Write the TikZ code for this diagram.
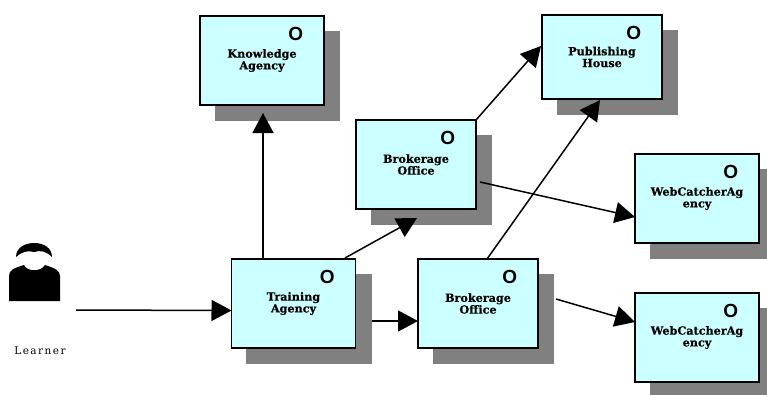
\documentclass[tikz,border=0pt]{standalone}
\usepackage{fontspec}
\setmainfont[BoldFeatures={FakeBold=0.4}]{DejaVu Serif}
\newfontfamily\learnerfont[LetterSpace=14]{DejaVu Serif}
\newfontfamily\markfont{Liberation Sans}
\usepackage{tikz}
\usetikzlibrary{arrows.meta}
\usetikzlibrary{shadows}
\definecolor{agencyblue}{RGB}{204,255,255}
\tikzset{flow/.style = {line width = 1.5pt, -{Triangle[length = 20pt, width = 21pt]}}}
\tikzset{agency/.style = {draw, fill = agencyblue, line width = 1.4pt, inner sep = 0, align = center,
                          font = \bfseries\fontsize{11.2}{11.8}\selectfont,
                          copy shadow = {shadow xshift = 15.5pt, shadow yshift = -15.5pt, fill = gray, draw = gray},
                          label = {[anchor = center, xshift = -29pt, yshift = -19pt,
                                    font = \markfont\bfseries\fontsize{19}{19}\selectfont]north east:O}}}
\begin{document}
\begin{tikzpicture}[x = 1pt, y = -1pt]
          \useasboundingbox (0, 0) rectangle (767, 394);
          \node [agency, minimum width = 124pt, minimum height = 89pt] (knowledge) at (262, 60.5) {Knowledge\\Agency};
          \node [agency, minimum width = 120pt, minimum height = 84pt] (publishing) at (602, 57) {Publishing\\House};
          \node [agency, minimum width = 120pt, minimum height = 89pt] (brokerageA) at (416, 164.5) {Brokerage\\Office};
          \node [agency, minimum width = 124pt, minimum height = 89pt] (catcherA) at (697, 198.5) {WebCatcherAg\\ency};
          \node [agency, minimum width = 124pt, minimum height = 89pt] (training) at (293.5, 303.5) {Training\\Agency};
          \node [agency, minimum width = 120pt, minimum height = 89pt] (brokerageB) at (478, 303.5) {Brokerage\\Office};
          \node [agency, minimum width = 124pt, minimum height = 89pt] (catcherB) at (697, 337.5) {WebCatcherAg\\ency};
          % learner figure
          \fill (16, 257) .. controls (16, 247) and (26, 243) .. (34, 243) .. controls (44, 243) and (52, 248) .. (52, 257)
            .. controls (46, 251) and (40, 250) .. (34, 252) .. controls (28, 250) and (21, 252) .. (16, 257) -- cycle;
          \fill (9, 301) -- (9, 276) .. controls (9, 270) and (14, 268) .. (24, 265) .. controls (27, 272) and (41, 272) .. (45, 265)
            .. controls (54, 268) and (60, 270) .. (60, 276) -- (60, 301) -- cycle;
          \node [font = \learnerfont\fontsize{10.5}{12}\selectfont] (learner) at (40, 351) {Learner};
          % free ends of the arrows
          \coordinate (learnerOut) at (76, 310);
          \coordinate (trainingIn) at (231.5, 310.5);
          \coordinate (trainingUp) at (263, 259);
          \coordinate (knowledgeIn) at (263, 113);
          \coordinate (trainingOut) at (345, 258);
          \coordinate (brokerageAIn) at (417, 218);
          \coordinate (brokerageAUp) at (476, 120);
          \coordinate (publishingInA) at (541, 46);
          \coordinate (brokerageAOut) at (480, 182);
          \coordinate (catcherAIn) at (635, 217);
          \coordinate (trainingSide) at (372, 321);
          \coordinate (brokerageBIn) at (418, 321);
          \coordinate (brokerageBUp) at (487, 259);
          \coordinate (publishingInB) at (600, 100);
          \coordinate (brokerageBOut) at (556, 299);
          \coordinate (catcherBIn) at (635, 322);
          \draw [flow] (learnerOut) -- (trainingIn);
          \draw [flow] (trainingUp) -- (knowledgeIn);
          \draw [flow] (trainingOut) -- (brokerageAIn);
          \draw [flow] (brokerageAUp) -- (publishingInA);
          \draw [flow] (brokerageAOut) -- (catcherAIn);
          \draw [flow] (trainingSide) -- (brokerageBIn);
          \draw [flow] (brokerageBUp) -- (publishingInB);
          \draw [flow] (brokerageBOut) -- (catcherBIn);
        \end{tikzpicture}
\end{document}
